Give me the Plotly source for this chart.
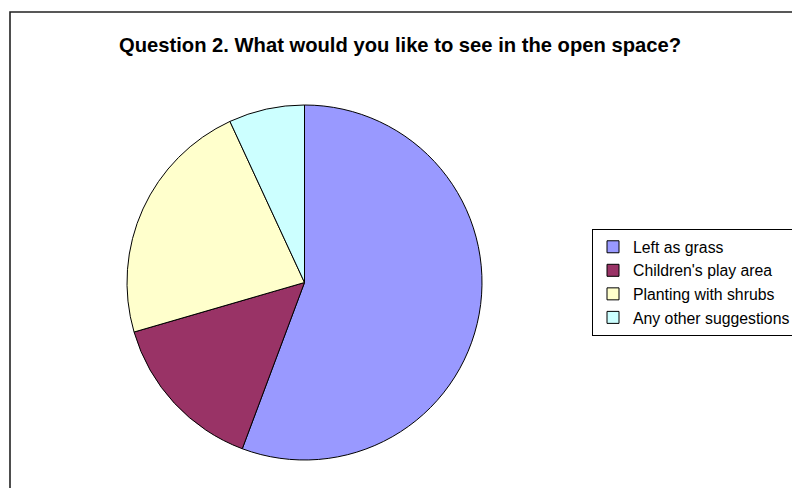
import plotly.graph_objects as go

# Survey responses, percent of answers
categories = ["Left as grass", "Children's play area", "Planting with shrubs", "Any other suggestions"]
shares = [55.7, 14.8, 22.6, 6.9]
colors = ["#9999FF", "#993366", "#FFFFCC", "#CCFFFF"]

W, H = 792, 488
cx, cy, r = 304.5, 282.5, 177.5  # pie centre and radius in pixels

fig = go.Figure(go.Pie(
    labels=categories,
    values=shares,
    sort=False,
    direction="clockwise",
    rotation=0,
    marker=dict(colors=colors, line=dict(color="black", width=1)),
    textinfo="none",
    hoverinfo="label+percent",
    domain=dict(x=[(cx - r) / W, (cx + r) / W],
                y=[(H - cy - r) / H, (H - cy + r) / H]),
))

fig.update_layout(
    width=W, height=H,
    margin=dict(l=0, r=0, t=0, b=0, autoexpand=False),
    paper_bgcolor="white",
    plot_bgcolor="white",
    font=dict(family="Liberation Sans, Arial, sans-serif", color="black"),
    title=dict(
        text="<b>Question 2. What would you like to see in the open space?</b>",
        x=400 / W, xanchor="center",
        y=1 - 45 / H, yanchor="middle",
        font=dict(size=20.2, family="Liberation Sans, Arial, sans-serif", color="black"),
    ),
    legend=dict(
        x=592 / W, xanchor="left",
        y=1 - 229 / H, yanchor="top",
        bgcolor="white",
        bordercolor="black",
        borderwidth=1,
        itemwidth=30,
        font=dict(size=15.8, family="Liberation Sans, Arial, sans-serif", color="black"),
        itemclick=False,
    ),
    shapes=[
        # chart-area frame running off the right and bottom edges
        dict(type="rect", xref="paper", yref="paper",
             x0=10 / W, x1=1.05, y0=-0.05, y1=1 - 12 / H,
             line=dict(color="#222222", width=1.6), fillcolor="rgba(0,0,0,0)",
             layer="below"),
    ],
)

fig.write_html("out.html")
